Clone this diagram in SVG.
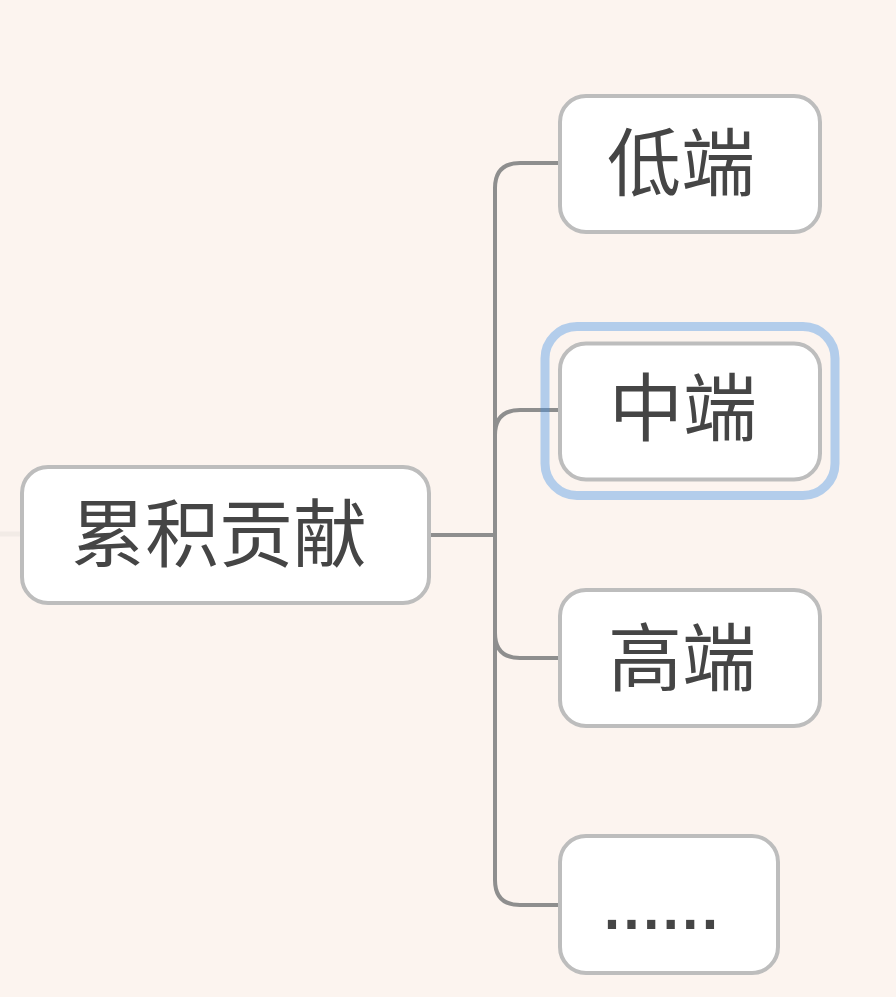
<svg xmlns="http://www.w3.org/2000/svg" width="896" height="997" viewBox="0 0 896 997">
<style>
.node rect.box{fill:#ffffff;stroke:#bdbdbd;stroke-width:4}
.lbl{font-family:"Noto Sans CJK SC","Noto Sans",sans-serif;font-size:74px;fill:#454545;text-anchor:middle}
.conn path{fill:none;stroke:#8e8e8e;stroke-width:4}
</style>
<rect width="896" height="997" fill="#fcf4ef"/>
<g id="connectors" class="conn">
<path d="M0 534 H22" style="stroke:#f2ebe6;stroke-width:5"/>
<path d="M430 535 H495"/>
<path d="M495 535 V188 Q495 163 520 163 H560"/>
<path d="M495 535 V435 Q495 410 520 410 H560"/>
<path d="M495 535 V633 Q495 658 520 658 H560"/>
<path d="M495 535 V880 Q495 905 520 905 H560"/>
</g>
<g id="root" class="node">
<rect class="box" x="22" y="467" width="407" height="136" rx="26"/>
<text class="lbl" x="219" y="561">累积贡献</text>
</g>
<g id="low" class="node">
<rect class="box" x="560" y="96" width="260" height="136" rx="26"/>
<text class="lbl" x="681" y="190">低端</text>
</g>
<g id="mid" class="node">
<rect class="box" x="560" y="343.5" width="260" height="136" rx="26"/>
<text class="lbl" x="683" y="435">中端</text>
<rect x="545" y="326.5" width="290" height="169" rx="32" fill="none" stroke="#3d8fe6" stroke-opacity="0.38" stroke-width="9"/>
</g>
<g id="high" class="node">
<rect class="box" x="560" y="590" width="260" height="136" rx="26"/>
<text class="lbl" x="682" y="685">高端</text>
</g>
<g id="more" class="node">
<rect class="box" x="560" y="836" width="218" height="137" rx="26"/>
<text x="600" y="929" style="font-family:'Liberation Sans',Arial,sans-serif;font-size:86px;letter-spacing:-4.3px;fill:#454545">......</text>
</g>
</svg>
